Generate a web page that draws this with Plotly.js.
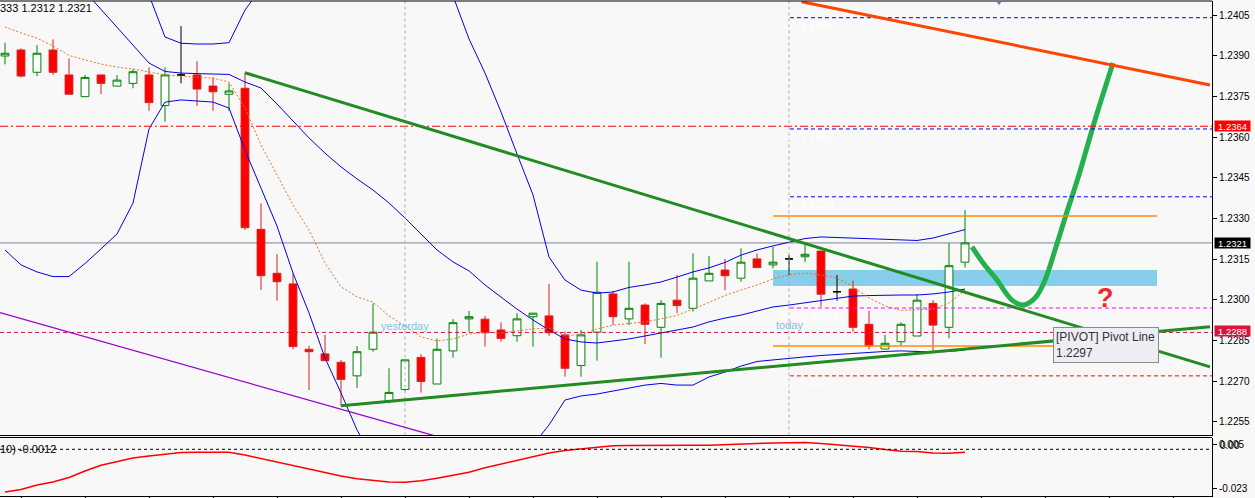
<!DOCTYPE html>
<html><head><meta charset="utf-8">
<script src="https://cdn.plot.ly/plotly-3.0.1.min.js"></script>
<style>html,body{margin:0;padding:0;background:#F8F8F8;}#chart{width:1255px;height:498px;}</style>
</head><body><div id="chart"></div>
<script>
// ---------- data ----------
const openP = [
1.23899,1.23921,1.23839,1.23921,1.23829,1.23749,1.23829,1.23788,1.23798,1.23829,
1.23716,1.23829,1.23829,1.23788,1.23758,1.23780,1.23260,1.23098,1.23059,1.22818,
1.22801,1.22770,1.22720,1.22818,1.22629,1.22670,1.22788,1.22690,1.22812,1.22930,
1.22929,1.22889,1.22868,1.22938,1.22941,1.22871,1.22758,1.22881,1.23022,1.22930,
1.22981,1.22899,1.22999,1.22969,1.23070,1.23110,1.23080,1.23151,1.23129,1.23151,
1.23159,1.23180,1.23030,1.23040,1.22910,1.22819,1.22846,1.22867,1.22987,1.22899,
1.23139];
const highP = [
1.23948,1.23927,1.23939,1.23960,1.23890,1.23829,1.23829,1.23829,1.23850,1.23857,
1.23857,1.24009,1.23880,1.23820,1.23798,1.23837,1.23356,1.23169,1.23098,1.22830,
1.22871,1.22779,1.22830,1.22987,1.22748,1.22779,1.22800,1.22858,1.22929,1.22959,
1.22941,1.22917,1.22951,1.22951,1.23059,1.22883,1.22889,1.23141,1.23034,1.23141,
1.22987,1.22999,1.23092,1.23171,1.23162,1.23151,1.23190,1.23171,1.23196,1.23165,
1.23202,1.23180,1.23092,1.23071,1.22960,1.22871,1.22917,1.23021,1.22999,1.23209,
1.23331];
const lowP = [
1.23868,1.23820,1.23825,1.23829,1.23758,1.23749,1.23758,1.23788,1.23780,1.23697,
1.23657,1.23798,1.23715,1.23697,1.23697,1.23258,1.23036,1.22997,1.22818,1.22668,
1.22776,1.22610,1.22676,1.22809,1.22619,1.22664,1.22658,1.22690,1.22787,1.22883,
1.22828,1.22846,1.22846,1.22828,1.22867,1.22717,1.22717,1.22776,1.22907,1.22907,
1.22837,1.22787,1.22951,1.22957,1.23070,1.23036,1.23067,1.23119,1.23116,1.23092,
1.23139,1.22975,1.22997,1.22883,1.22818,1.22819,1.22830,1.22867,1.22803,1.22858,
1.23119];
const closeP = [
1.23909,1.23825,1.23909,1.23839,1.23758,1.23820,1.23798,1.23810,1.23841,1.23727,
1.23829,1.23829,1.23777,1.23767,1.23770,1.23266,1.23089,1.23067,1.22828,1.22809,
1.22776,1.22707,1.22809,1.22881,1.22659,1.22779,1.22699,1.22818,1.22916,1.22938,
1.22879,1.22858,1.22930,1.22951,1.22879,1.22748,1.22871,1.23028,1.22938,1.22969,
1.22910,1.22987,1.22979,1.23080,1.23098,1.23089,1.23139,1.23119,1.23139,1.23151,
1.23168,1.23021,1.23030,1.22899,1.22830,1.22840,1.22910,1.22999,1.22907,1.23126,
1.23210];
const bbUpper = [
1.25749,1.25672,1.25565,1.25450,1.25318,1.25137,1.24949,1.24769,1.24514,1.24124,
1.23969,1.23946,1.23943,1.23943,1.23948,1.24068,1.24150,1.24172,1.24220,1.24242,
1.24297,1.24323,1.24371,1.24400,1.24378,1.24323,1.24242,1.24142,1.24120,1.23962,
1.23836,1.23693,1.23538,1.23387,1.23158,1.23073,1.23036,1.23025,1.23029,1.23046,
1.23055,1.23066,1.23084,1.23103,1.23118,1.23138,1.23165,1.23184,1.23199,1.23213,
1.23226,1.23232,1.23230,1.23228,1.23224,1.23223,1.23221,1.23219,1.23228,1.23243,
1.23259];
const bbMiddle = [
1.24466,1.24400,1.24334,1.24267,1.24201,1.24135,1.24068,1.24006,1.23936,1.23873,
1.23842,1.23836,1.23834,1.23833,1.23831,1.23803,1.23781,1.23722,1.23659,1.23597,
1.23541,1.23490,1.23446,1.23405,1.23357,1.23302,1.23243,1.23184,1.23140,1.23107,
1.23055,1.23011,1.22966,1.22926,1.22889,1.22856,1.22845,1.22841,1.22849,1.22856,
1.22867,1.22878,1.22889,1.22900,1.22919,1.22933,1.22944,1.22959,1.22974,1.22981,
1.22989,1.22999,1.23007,1.23014,1.23016,1.23018,1.23018,1.23018,1.23022,1.23029,
1.23040];
const bbLower = [
1.23184,1.23129,1.23103,1.23086,1.23086,1.23134,1.23188,1.23243,1.23357,1.23630,
1.23729,1.23737,1.23733,1.23729,1.23707,1.23552,1.23412,1.23272,1.23099,1.22952,
1.22786,1.22657,1.22521,1.22417,1.22344,1.22285,1.22244,1.22218,1.22170,1.22244,
1.22281,1.22340,1.22399,1.22465,1.22539,1.22631,1.22646,1.22653,1.22664,1.22675,
1.22686,1.22692,1.22686,1.22686,1.22716,1.22734,1.22756,1.22773,1.22779,1.22786,
1.22790,1.22795,1.22799,1.22803,1.22806,1.22810,1.22812,1.22811,1.22808,1.22810,
1.22815];
const maLine = [
1.24006,1.23984,1.23965,1.23936,1.23901,1.23884,1.23869,1.23858,1.23851,1.23840,
1.23829,1.23825,1.23820,1.23817,1.23803,1.23707,1.23571,1.23460,1.23350,1.23258,
1.23136,1.23048,1.23011,1.22992,1.22941,1.22904,1.22863,1.22849,1.22856,1.22874,
1.22880,1.22878,1.22885,1.22893,1.22896,1.22869,1.22871,1.22893,1.22907,1.22913,
1.22919,1.22930,1.22943,1.22966,1.22992,1.23016,1.23036,1.23055,1.23077,1.23092,
1.23099,1.23092,1.23081,1.23048,1.23007,1.22978,1.22961,1.22963,1.22966,1.22989,
1.23036];
const oscValues = [
-0.02518,-0.02370,-0.02105,-0.01928,-0.01663,-0.01279,-0.00943,-0.00719,-0.00513,-0.00395,
-0.00301,-0.00189,-0.00177,-0.00177,-0.00177,-0.00336,-0.00542,-0.00749,-0.00943,-0.01150,
-0.01368,-0.01568,-0.01733,-0.01846,-0.01922,-0.01946,-0.01851,-0.01704,-0.01539,-0.01350,
-0.01091,-0.00867,-0.00631,-0.00401,-0.00218,-0.00071,0.00018,0.00118,0.00212,0.00224,
0.00236,0.00236,0.00236,0.00236,0.00236,0.00283,0.00313,0.00342,0.00371,0.00401,
0.00401,0.00342,0.00265,0.00206,0.00106,-0.00012,-0.00112,-0.00136,-0.00218,-0.00236,
-0.00177];

const priceTicks = [1.2405,1.2390,1.2375,1.2360,1.2345,1.2330,1.2315,1.2300,1.2285,1.2270,1.2255];
const timeTicks = [1,5,9,13,17,21,25,29,33,37,41,45,49,53,57,61,65,69,73];
const oscTickVals = [0.0031,-0.023];
const oscTickText = ['0.005','-0.023'];

const pivotNames  = ['R3','R2','R1','Pivot','S1'];
const pivotValues = [1.2404,1.2363,1.2338,1.2297,1.2272];
const pivotFromIdx = 49.06;

const fullLevels = [1.2364,1.2321,1.2288];
const orangeLevels = [1.23309,1.22830];
const orangeIdx = [48.0,72.0];
const zoneIdx = [48.0,72.0];
const zonePrice = [1.23051,1.23110];
const daySeparators = [25,49];
const dayLabels = ['yesterday','today'];
const dayLabelPrice = [1.22905,1.22907];

const trendDownIdx = [15,75.31], trendDownPrice = [1.23837,1.22753];
const trendUpIdx = [21,75.31],   trendUpPrice = [1.22610,1.22901];
const resistIdx = [49.79,75.31], resistPrice = [1.24099,1.23792];
const purpleIdx = [-0.3125,30.94], purplePrice = [1.22953,1.22431];

const curveIdx = [60.44,61.13,62.0,62.94,63.63,64.375,65.0,65.625,66.25,67.06,68.125,69.25];
const curvePrice = [1.23195,1.23136,1.23073,1.22999,1.22981,1.23007,1.23073,1.23184,1.23302,1.23449,1.23663,1.23873];
const questionIdx = 68.78, questionPrice = 1.23007;

const headerText = '333 1.2312 1.2321';
const oscLabel = '10) -0.0012';

// ---------- geometry / styles ----------
const FONT_AXIS = "'Liberation Sans Narrow','Liberation Sans',Arial,sans-serif";
const FONT_UI = "'Liberation Sans',Arial,sans-serif";
const PLOT_W = 1212, BOTTOM = 496, PLOT_H = 495;
const pxX = v => v / PLOT_W;
const pxY = v => (BOTTOM - v) / PLOT_H;
const MAIN_BOTTOM = pxY(435.5), SUB_TOP = pxY(437.5);
const X_RANGE = [-0.3125, 75.4375];
const Y_RANGE = [1.225002, 1.241016];

const idx = openP.map((_, i) => i);
function subset(pred){
  const s = {x:[],open:[],high:[],low:[],close:[]};
  idx.forEach(i => { if(pred(i)){ s.x.push(i); s.open.push(openP[i]); s.high.push(highP[i]); s.low.push(lowP[i]); s.close.push(closeP[i]); }});
  return s;
}
function candleTrace(s, lineColor, fill){
  return {type:'candlestick', x:s.x, open:s.open, high:s.high, low:s.low, close:s.close,
    increasing:{line:{color:lineColor,width:1}, fillcolor:fill},
    decreasing:{line:{color:lineColor,width:1}, fillcolor:fill},
    whiskerwidth:0, hoverinfo:'skip', showlegend:false, xaxis:'x', yaxis:'y'};
}
const bulls = subset(i => closeP[i] > openP[i]);
const bears = subset(i => closeP[i] < openP[i]);
const dojis = subset(i => closeP[i] === openP[i]);

function lineTrace(y, color, width, dash, yaxis){
  return {type:'scatter', mode:'lines', x:idx, y:y, line:{color:color,width:width,dash:dash||'solid'},
    hoverinfo:'skip', showlegend:false, xaxis:'x', yaxis:yaxis||'y'};
}

const traces = [
  candleTrace(bulls, '#008000', '#FFFFFF'),
  candleTrace(bears, '#D42020', '#FF0000'),
  candleTrace(dojis, '#000000', '#000000'),
  lineTrace(bbUpper, '#0000E6', 1),
  lineTrace(bbMiddle, '#0000E6', 1),
  lineTrace(bbLower, '#0000E6', 1),
  lineTrace(maLine, '#E8741E', 1, '2px,2px'),
  {type:'scatter', mode:'lines', x:curveIdx, y:curvePrice, line:{color:'#22B14C', width:5, shape:'spline', smoothing:1},
   hoverinfo:'skip', showlegend:false, xaxis:'x', yaxis:'y'},
  lineTrace(oscValues, '#FF0000', 1.5, 'solid', 'y2')
];

const shapes = [];
shapes.push({type:'rect', layer:'below', xref:'x', yref:'y', x0:zoneIdx[0], x1:zoneIdx[1], y0:zonePrice[0], y1:zonePrice[1],
  fillcolor:'#87CEEB', line:{width:0}});
const fullStyles = [
  {color:'#FF0000', dash:'8px,3px,2px,3px', layer:'above'},
  {color:'#778899', dash:'solid', layer:'below'},
  {color:'#DC143C', dash:'4px,3px', layer:'above'}
];
fullLevels.forEach((v,k) => shapes.push({type:'line', layer:fullStyles[k].layer, xref:'paper', yref:'y', x0:0, x1:1, y0:v, y1:v,
  line:{color:fullStyles[k].color, width:1, dash:fullStyles[k].dash}}));
const pivotColors = ['#0000FF','#0000FF','#0000FF','#FF00FF','#FF0000'];
pivotValues.forEach((v,k) => shapes.push({type:'line', xref:'x', yref:'y', x0:pivotFromIdx, x1:X_RANGE[1], y0:v, y1:v,
  line:{color:pivotColors[k], width:1, dash:'4px,3px'}}));
orangeLevels.forEach(v => shapes.push({type:'line', xref:'x', yref:'y', x0:orangeIdx[0], x1:orangeIdx[1], y0:v, y1:v,
  line:{color:'#FF8C00', width:1.5}}));
daySeparators.forEach(d => shapes.push({type:'line', xref:'x', yref:'paper', x0:d, x1:d, y0:MAIN_BOTTOM, y1:1,
  line:{color:'#A9A9A9', width:1, dash:'3px,3px'}}));
function seg(xs, ys, color, width){ return {type:'line', xref:'x', yref:'y', x0:xs[0], x1:xs[1], y0:ys[0], y1:ys[1], line:{color:color,width:width}}; }
shapes.push(seg(purpleIdx, purplePrice, '#9A00D0', 1.3));
shapes.push(seg(trendDownIdx, trendDownPrice, '#228B22', 3));
shapes.push(seg(trendUpIdx, trendUpPrice, '#228B22', 3));
shapes.push(seg(resistIdx, resistPrice, '#FF4500', 3));
shapes.push({type:'line', xref:'paper', yref:'y2', x0:0, x1:1, y0:0, y1:0, line:{color:'#000', width:1, dash:'3px,3px'}});
shapes.push({type:'line', xref:'paper', yref:'paper', x0:0, x1:1, y0:1, y1:1, line:{color:'#000', width:1}});
shapes.push({type:'line', xref:'paper', yref:'paper', x0:0, x1:1, y0:MAIN_BOTTOM, y1:MAIN_BOTTOM, line:{color:'#000', width:1}});
shapes.push({type:'line', xref:'paper', yref:'paper', x0:0, x1:1, y0:SUB_TOP, y1:SUB_TOP, line:{color:'#000', width:1}});
shapes.push({type:'path', xref:'paper', yref:'paper',
  path:`M${pxX(995)},${pxY(0)} L${pxX(1003)},${pxY(0)} L${pxX(999)},${pxY(5)} Z`, fillcolor:'#708090', line:{width:0}});

const annotations = [];
annotations.push({xref:'paper', yref:'paper', x:0, y:pxY(8), xanchor:'left', yanchor:'middle', xshift:-2, text:headerText,
  showarrow:false, font:{family:FONT_AXIS, size:11, color:'#000'}});
annotations.push({xref:'paper', yref:'paper', x:0, y:pxY(448.5), xanchor:'left', yanchor:'middle', xshift:-2, text:oscLabel,
  showarrow:false, font:{family:FONT_AXIS, size:11, color:'#000'}});
const boxColors = ['#FF0000','#000000','#DC143C'];
const boxShift = [0,0,1];
fullLevels.forEach((v,k) => annotations.push({xref:'paper', yref:'y', x:1, y:v, xanchor:'left', yanchor:'middle', xshift:2, yshift:boxShift[k],
  text:v.toFixed(4), showarrow:false, bgcolor:boxColors[k], borderpad:0, width:35, height:10, align:'center', valign:'middle',
  font:{family:FONT_AXIS, size:9.5, color:'#FFFFFF'}}));
annotations.push({xref:'paper', yref:'y2', x:1, y:oscTickVals[0], xanchor:'left', yanchor:'middle', xshift:6, yshift:-1,
  text:'0.00', showarrow:false, font:{family:FONT_AXIS, size:10, color:'#000'}});
pivotValues.forEach((v,k) => annotations.push({xref:'x', yref:'y', x:48.3, y:v, xanchor:'left', yanchor:'middle', yshift:-7,
  text:pivotNames[k] + ': ' + v.toFixed(4), showarrow:false, font:{family:FONT_UI, size:11, color:'#FFFFFF'}}));
daySeparators.forEach((d,k) => annotations.push({xref:'x', yref:'y', x:d, y:dayLabelPrice[k], xanchor:'center', yanchor:'middle',
  text:dayLabels[k], showarrow:false, font:{family:FONT_UI, size:11, color:'#80C3DF'}}));
annotations.push({xref:'x', yref:'y', x:questionIdx, y:questionPrice, xanchor:'center', yanchor:'middle', text:'<b>?</b>',
  showarrow:false, font:{family:FONT_UI, size:27, color:'#EE2A2A'}});
annotations.push({xref:'paper', yref:'paper', x:pxX(1053), y:pxY(344.5), xanchor:'left', yanchor:'middle',
  text:'[PIVOT] Pivot Line<br>' + pivotValues[3].toFixed(4), align:'left', showarrow:false, width:100,
  bgcolor:'#EDEDF3', bordercolor:'#8A8A8A', borderwidth:1, borderpad:2,
  font:{family:FONT_UI, size:12, color:'#333333'}});

const layout = {
  width:1255, height:498,
  margin:{l:0, r:43, t:1, b:2, pad:0},
  paper_bgcolor:'#F8F8F8', plot_bgcolor:'#F8F8F8',
  showlegend:false, hovermode:false, dragmode:false, boxgap:0.3,
  xaxis:{domain:[0,1], anchor:'y2', range:X_RANGE, showgrid:false, zeroline:false, showline:true, linecolor:'#000', linewidth:1,
    ticks:'outside', ticklen:4, tickcolor:'#000', tickvals:timeTicks, showticklabels:false, rangeslider:{visible:false}, fixedrange:true},
  yaxis:{domain:[MAIN_BOTTOM,1], anchor:'x', side:'right', range:Y_RANGE, showgrid:false, zeroline:false,
    showline:true, linecolor:'#000', linewidth:1, ticks:'outside', ticklen:4, tickcolor:'#000',
    tickvals:priceTicks, ticktext:priceTicks.map(v => v.toFixed(4)), tickfont:{family:FONT_AXIS, size:10, color:'#000'}, fixedrange:true},
  yaxis2:{domain:[0,SUB_TOP], anchor:'x', side:'right', range:[-0.02753,0.00696], showgrid:false, zeroline:false,
    showline:true, linecolor:'#000', linewidth:1, ticks:'outside', ticklen:4, tickcolor:'#000',
    tickvals:oscTickVals, ticktext:oscTickText, tickfont:{family:FONT_AXIS, size:10, color:'#000'}, fixedrange:true},
  shapes:shapes, annotations:annotations
};

Plotly.newPlot('chart', traces, layout, {displayModeBar:false, staticPlot:true});
</script>
</body></html>
